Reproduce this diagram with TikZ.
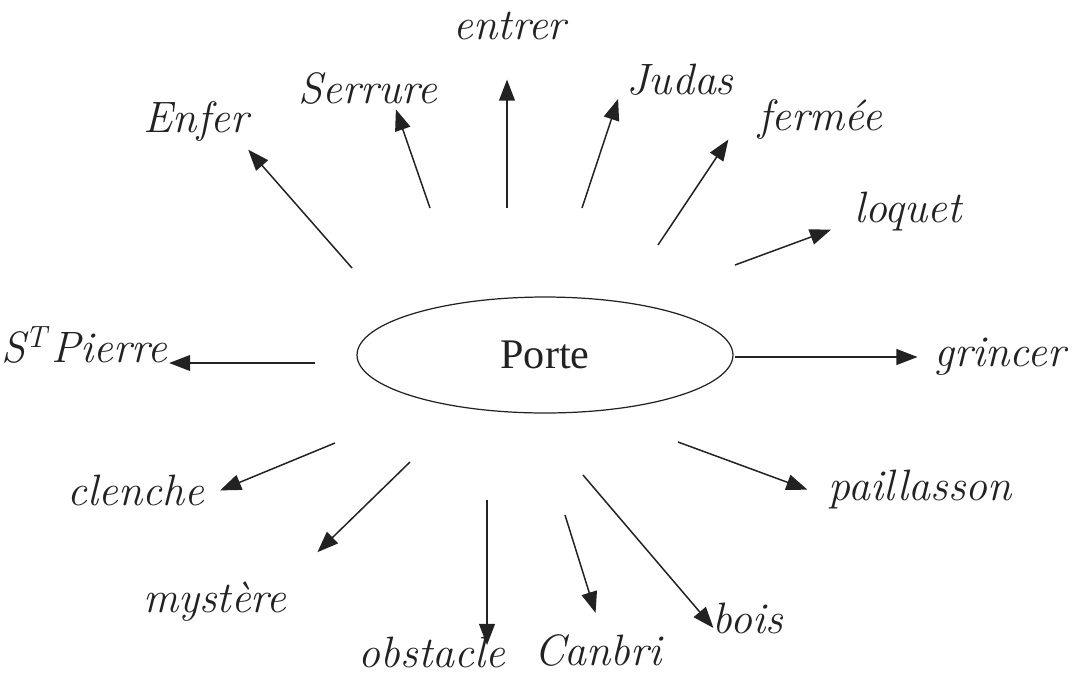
\documentclass[tikz,border=0pt]{standalone}
\usepackage{fontspec}
\newfontfamily\portefont{Liberation Serif}
\usetikzlibrary{arrows.meta, positioning, shapes.geometric}
\definecolor{PTink}{HTML}{222222}
\tikzset{
  ptcenter/.style={ellipse, draw=PTink, line width=0.7pt, minimum width=7.52cm,
    minimum height=2.32cm, inner sep=0pt, text=PTink,
    font=\portefont\fontsize{24}{28}\selectfont},
  ptword/.style={inner sep=1pt, text=PTink, font=\fontsize{25}{30}\selectfont\itshape},
  ptarr/.style={-{Triangle[length=12pt,width=9pt]}, line width=0.85pt, draw=PTink,
    shorten >=2pt},
}

\begin{document}
\begin{tikzpicture}[x=0.02cm, y=-0.02cm]
  \useasboundingbox (0,0) rectangle (1072,674);
  \node[ptcenter] (porte) at (545,355) {Porte};
  % words round the door
  \node[ptword] (entrer) at (510,26) {entrer};
  \node[ptword] (serrure) at (368,88) {Serrure};
  \node[ptword] (enfer) at (196,122) {Enfer};
  \node[ptword] (judas) at (680,80) {Judas};
  \node[ptword] (fermee) at (820,120) {fermée};
  \node[ptword] (loquet) at (908,212) {loquet};
  \node[ptword] (grincer) at (1000,357) {grincer};
  \node[ptword] (pierre) at (84,345) {S\textsuperscript{T}\kern2pt Pierre};
  \node[ptword] (clenche) at (136,490) {clenche};
  \node[ptword] (paillasson) at (920,490) {paillasson};
  \node[ptword] (mystere) at (215,602) {mystère};
  \node[ptword] (obstacle) at (432,652) {obstacle};
  \node[ptword] (canbri) at (598,650) {Canbri};
  \node[ptword] (bois) at (748,618) {bois};
  % arrow tails near the ellipse
  \coordinate (t-entrer) at (507,208);
  \coordinate (t-serrure) at (430,208);
  \coordinate (t-enfer) at (352,268);
  \coordinate (t-judas) at (582,208);
  \coordinate (t-fermee) at (658,245);
  \coordinate (t-loquet) at (735,265);
  \coordinate (t-grincer) at (735,357);
  \coordinate (t-pierre) at (315,363);
  \coordinate (t-clenche) at (335,443);
  \coordinate (t-paillasson) at (678,442);
  \coordinate (t-mystere) at (410,462);
  \coordinate (t-obstacle) at (487,500);
  \coordinate (t-canbri) at (565,515);
  \coordinate (t-bois) at (583,475);
  % arrows
  \draw[ptarr, shorten >=0.75cm] (t-entrer) -- (t-entrer |- entrer.south);
  \draw[ptarr] (t-serrure) -- (serrure.-34);
  \draw[ptarr, shorten >=0.15cm] (t-enfer) -- (enfer.-25);
  \draw[ptarr, shorten >=0.4cm] (t-judas) -- (judas.west);
  \draw[ptarr, shorten >=1cm] (t-fermee) -- (fermee.north west);
  \draw[ptarr, shorten >=0.45cm] (t-loquet) -- (loquet.190);
  \draw[ptarr, shorten >=0.3cm] (t-grincer) -- (t-grincer -| grincer.west);
  \draw[ptarr, shorten >=0pt] (t-pierre) -- (t-pierre -| pierre.east);
  \draw[ptarr, shorten >=0.3cm] (t-clenche) -- (clenche.-5);
  \draw[ptarr, shorten >=0.4cm] (t-paillasson) -- (paillasson.184);
  \draw[ptarr, shorten >=0.8cm] (t-mystere) -- (mystere.north east);
  \draw[ptarr, shorten >=0.14cm] (t-obstacle) -- (t-obstacle |- obstacle.center);
  \draw[ptarr, shorten >=0.4cm] (t-canbri) -- (canbri.79);
  \draw[ptarr, shorten >=0.2cm] (t-bois) -- (bois.212);
\end{tikzpicture}
\end{document}
